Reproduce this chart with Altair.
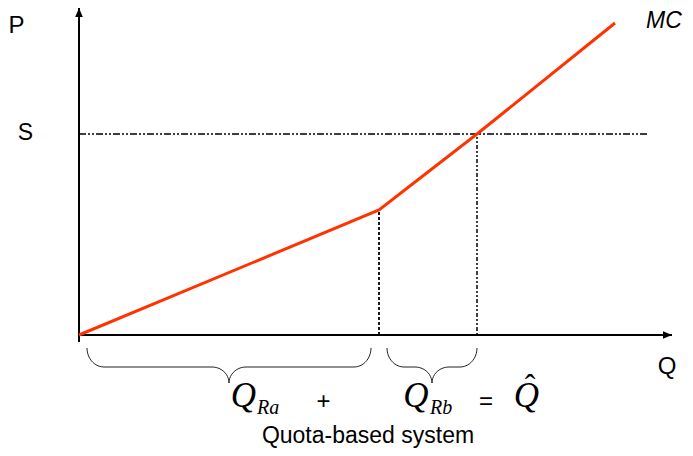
import altair as alt
import numpy as np
import pandas as pd

# ---- values (chart units) ----
MC_Q = [0.0, 30.0, 39.8, 53.6]      # marginal cost curve, quantities
MC_P = [0.0, 12.5, 20.1, 31.2]      # marginal cost curve, prices
S_PRICE = 20.1                      # price level S
Q_RA = 30.0                         # quota part a
Q_HAT = 39.8                        # total quota Q-hat
Q_AXIS_END = 59.3
P_AXIS_END = 32.7
P_AXIS_START = -0.7
S_LINE_END = 56.8
BRACE_START = [0.8, 30.8]
BRACE_END = [29.2, 39.8]

xs = alt.Scale(domain=[-7.1, 60.6], nice=False, zero=False)
ys = alt.Scale(domain=[-11.3, 32.7], nice=False, zero=False)
X = lambda f: alt.X(f, type="quantitative", scale=xs, axis=None)
Y = lambda f: alt.Y(f, type="quantitative", scale=ys, axis=None)

# axes
axes_df = pd.DataFrame({
    "x": [0.0, 0.0], "x2": [Q_AXIS_END, 0.0],
    "y": [0.0, P_AXIS_START], "y2": [0.0, P_AXIS_END],
})
axes = alt.Chart(axes_df).mark_rule(color="black", strokeWidth=2).encode(
    x=X("x"), x2="x2", y=Y("y"), y2="y2")

arrow_x = alt.Chart(pd.DataFrame({"x": [Q_AXIS_END], "y": [0.0]})).mark_point(
    shape="M0,0L-2,-0.85L-2,0.85Z", filled=True, color="black", opacity=1,
    size=81, strokeWidth=0).encode(x=X("x"), y=Y("y"))
arrow_y = alt.Chart(pd.DataFrame({"x": [0.0], "y": [P_AXIS_END]})).mark_point(
    shape="M0,0L-0.85,2L0.85,2Z", filled=True, color="black", opacity=1,
    size=81, strokeWidth=0).encode(x=X("x"), y=Y("y"))

# S price line and verticals
s_line = alt.Chart(pd.DataFrame({"x": [0.0], "x2": [S_LINE_END], "y": [S_PRICE]})).mark_rule(
    color="black", strokeWidth=1.5, strokeDash=[7, 2, 2, 2, 2, 2]).encode(
    x=X("x"), x2="x2", y=Y("y"))
v_a = alt.Chart(pd.DataFrame({"x": [MC_Q[1]], "y": [0.0], "y2": [MC_P[1]]})).mark_rule(
    color="black", strokeWidth=1.8, strokeDash=[3, 2]).encode(x=X("x"), y=Y("y"), y2="y2")
v_hat = alt.Chart(pd.DataFrame({"x": [Q_HAT], "y": [0.0], "y2": [S_PRICE]})).mark_rule(
    color="black", strokeWidth=1.5, strokeDash=[2, 2, 4, 2, 2, 2]).encode(x=X("x"), y=Y("y"), y2="y2")

# MC curve
mc_df = pd.DataFrame({"q": MC_Q, "p": MC_P, "o": range(len(MC_Q))})
mc = alt.Chart(mc_df).mark_line(color="#FF3300", strokeWidth=3).encode(
    x=X("q"), y=Y("p"), order="o")

# braces (shape built from their end points)
def brace(a, b, yt=-1.3, ym=-3.2, yp=-4.8, re=1.7, rt=1.7, n=12):
    m = (a + b) / 2
    t = np.linspace(0, np.pi / 2, n)
    lx = list(a + re - re * np.cos(t)); ly = list(yt - (yt - ym) * np.sin(t))
    lx += list(m - rt + rt * np.sin(t)); ly += list(yp + (ym - yp) * np.cos(t))
    rx = [2 * m - v for v in lx[::-1]]; ry = ly[::-1]
    return lx + rx, ly + ry

rows = []
for i, (a, b) in enumerate(zip(BRACE_START, BRACE_END)):
    bx, by = brace(a, b)
    for k, (u, v) in enumerate(zip(bx, by)):
        rows.append({"id": i, "o": k, "x": u, "y": v})
braces = alt.Chart(pd.DataFrame(rows)).mark_line(color="#222222", strokeWidth=1).encode(
    x=X("x"), y=Y("y"), detail="id:N", order="o")

def label(text, x, y, dx, dy, size, font="Liberation Sans", style="normal",
          align="center", baseline="middle"):
    return alt.Chart(pd.DataFrame({"x": [x], "y": [y], "t": [text]})).mark_text(
        font=font, fontSize=size, fontStyle=style, align=align, baseline=baseline,
        dx=dx, dy=dy, color="black").encode(x=X("x"), y=Y("y"), text="t:N")

serif = "Liberation Serif"
texts = [
    label("P", 0, P_AXIS_END, -62.5, 18, 24),
    label("S", 0, S_PRICE, -53.5, -1.5, 23),
    label("Q", Q_AXIS_END, 0, -5, 32, 24),
    label("MC", MC_Q[-1], MC_P[-1], 49, -2, 23, style="italic"),
    label("Q", Q_RA / 2, 0, 14.5, 72, 35, font=serif, style="italic", baseline="alphabetic"),
    label("Ra", Q_RA / 2, 0, 28, 79, 20, font=serif, style="italic", align="left", baseline="alphabetic"),
    label("+", Q_RA, 0, -55.5, 67, 24),
    label("Q", (Q_RA + Q_HAT) / 2, 0, -12, 72, 35, font=serif, style="italic", baseline="alphabetic"),
    label("Rb", (Q_RA + Q_HAT) / 2, 0, 2, 79, 20, font=serif, style="italic", align="left", baseline="alphabetic"),
    label("=", Q_HAT, 0, 9, 67, 24),
    label("Q", Q_HAT, 0, 49.5, 72, 35, font=serif, style="italic", baseline="alphabetic"),
    label("ˆ", Q_HAT, 0, 53, 61, 32, font=serif, baseline="alphabetic"),
    label("Quota-based system", Q_RA, 0, -11, 108, 23, baseline="alphabetic"),
]

chart = alt.layer(axes, s_line, v_a, v_hat, mc, arrow_x, arrow_y, braces, *texts).properties(
    width=677, height=440, padding=0, autosize="none"
).configure_view(stroke=None)

chart.save("out.html", embed_options={"renderer": "svg", "actions": False})
